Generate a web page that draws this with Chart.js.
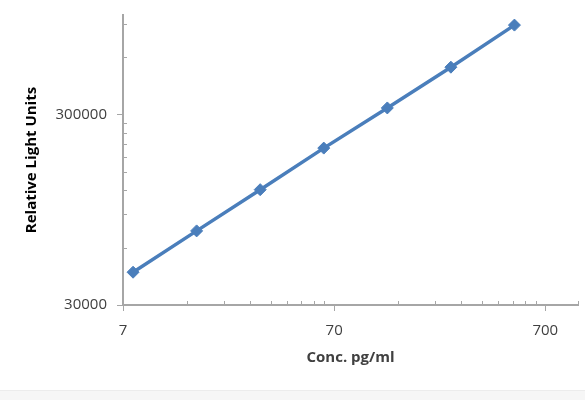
<!DOCTYPE html>
<html>
<head>
<meta charset="utf-8">
<script src="https://cdn.jsdelivr.net/npm/chart.js@4/dist/chart.umd.min.js"></script>
<style>
  html, body { margin: 0; padding: 0; background: #ffffff; }
  #wrap { position: relative; width: 585px; height: 400px; overflow: hidden; }
  #strip { position: absolute; left: 0; top: 390px; width: 585px; height: 10px; background: #f6f6f6; border-top: 1px solid #ececec; }
  canvas { position: absolute; left: 0; top: 0; }
</style>
</head>
<body>
<div id="wrap">
  <canvas id="c" width="585" height="400"></canvas>
  <div id="strip"></div>
</div>
<script>
// Data
const concentrations = [7.8125, 15.625, 31.25, 62.5, 125, 250, 500];
const rluValues = [44600, 73500, 121000, 200000, 325000, 532000, 885000];

// Axis ticks
const xMajorTicks = [7, 70, 700];
const xMinorTicks = [14, 21, 28, 35, 42, 49, 56, 63, 140, 210, 280, 350, 420, 490, 560, 630, 1000];
const yMajorTicks = [30000, 300000];
const yMinorTicks = [60000, 90000, 120000, 150000, 180000, 210000, 240000, 270000, 600000, 900000];
const xMin = 7, xMax = 1000, yMin = 30000, yMax = 1000000;

const xTitle = 'Conc. pg/ml';
const yTitle = 'Relative Light Units';

const axisColor = '#a6a6a6';
const textColor = '#404040';
const seriesColor = '#4a7ebb';
const fontFamily = '"Open Sans", "Liberation Sans", sans-serif';

const points = concentrations.map((x, i) => ({ x: x, y: rluValues[i] }));

const minorTickPlugin = {
  id: 'minorTicks',
  afterDraw(chart) {
    const ctx = chart.ctx;
    const xs = chart.scales.x, ys = chart.scales.y;
    ctx.save();
    ctx.strokeStyle = axisColor;
    ctx.lineWidth = 1;
    xMinorTicks.forEach(v => {
      const px = Math.round(xs.getPixelForValue(v)) + 0.5;
      ctx.beginPath();
      ctx.moveTo(px, xs.top);
      ctx.lineTo(px, xs.top - 4);
      ctx.stroke();
    });
    yMinorTicks.forEach(v => {
      const py = Math.round(ys.getPixelForValue(v)) + 0.5;
      ctx.beginPath();
      ctx.moveTo(ys.right, py);
      ctx.lineTo(ys.right + 4, py);
      ctx.stroke();
    });
    ctx.restore();
  }
};

new Chart(document.getElementById('c'), {
  type: 'line',
  data: {
    datasets: [{
      data: points,
      borderColor: seriesColor,
      backgroundColor: seriesColor,
      borderWidth: 3.5,
      pointStyle: 'rectRot',
      pointRadius: 6,
      pointHoverRadius: 6,
      pointBorderWidth: 1,
      fill: false,
      tension: 0
    }]
  },
  options: {
    responsive: false,
    animation: false,
    devicePixelRatio: 1,
    layout: { padding: { left: 0, right: 5, top: 15, bottom: 0 } },
    plugins: { legend: { display: false }, tooltip: { enabled: false } },
    scales: {
      x: {
        type: 'logarithmic',
        min: xMin,
        max: xMax,
        afterBuildTicks: s => { s.ticks = xMajorTicks.map(v => ({ value: v })); },
        afterFit: s => { s.height = 95; s.paddingLeft = 0; s.paddingRight = 0; },
        ticks: {
          autoSkip: false,
          maxRotation: 0,
          padding: 11,
          color: textColor,
          font: { family: fontFamily, size: 15 },
          callback: v => String(v)
        },
        grid: { drawOnChartArea: false, tickLength: 6, color: axisColor, lineWidth: 1 },
        border: { color: axisColor, width: 2 },
        title: {
          display: true,
          text: xTitle,
          color: textColor,
          font: { family: fontFamily, size: 15, weight: 'bold' },
          padding: { top: 0, bottom: 33 }
        }
      },
      y: {
        type: 'logarithmic',
        min: yMin,
        max: yMax,
        afterBuildTicks: s => { s.ticks = yMajorTicks.map(v => ({ value: v })); },
        afterFit: s => { s.width = 123; s.paddingTop = 0; s.paddingBottom = 0; },
        ticks: {
          autoSkip: false,
          padding: 10,
          color: textColor,
          font: { family: fontFamily, size: 15 },
          callback: v => String(v)
        },
        grid: { drawOnChartArea: false, tickLength: 6, color: axisColor, lineWidth: 1 },
        border: { color: axisColor, width: 2 },
        title: {
          display: true,
          text: yTitle,
          color: '#000000',
          font: { family: fontFamily, size: 15, weight: 'bold' },
          padding: { top: 23, bottom: 0 }
        }
      }
    }
  },
  plugins: [minorTickPlugin]
});
</script>
</body>
</html>
